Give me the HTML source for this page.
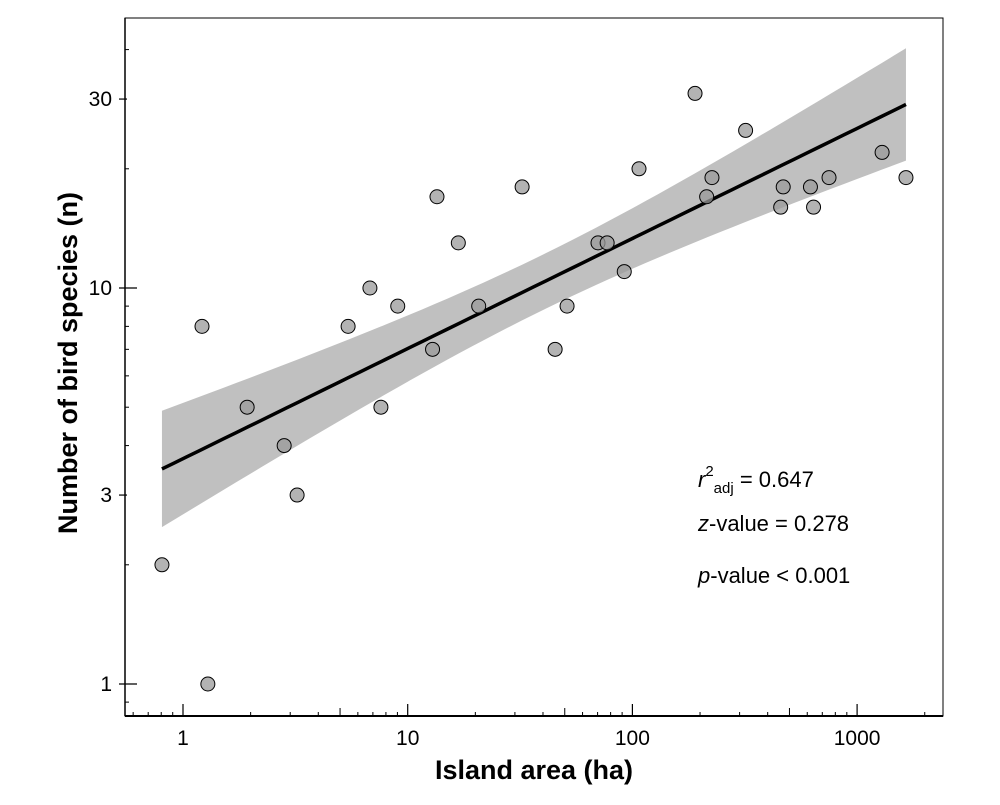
<!DOCTYPE html>
<html><head><meta charset="utf-8"><style>
body{margin:0;background:#fff}
svg text{font-family:"Liberation Sans",Arial,sans-serif}
</style></head><body>
<svg id="chart" width="1000" height="800" xmlns="http://www.w3.org/2000/svg">
<rect x="0" y="0" width="1000" height="800" fill="#fff"/>
<g id="band"></g><g id="line"></g><g id="pts"></g><g id="axes"></g>
<text x="534" y="779" text-anchor="middle" font-size="27" font-weight="bold">Island area (ha)</text>
<text transform="translate(77,363) rotate(-90)" text-anchor="middle" font-size="27" font-weight="bold">Number of bird species (n)</text>
<text x="698" y="487" font-size="22"><tspan font-style="italic">r</tspan><tspan dy="-11" font-size="15">2</tspan><tspan dy="17" font-size="15">adj</tspan><tspan dy="-6"> = 0.647</tspan></text>
<text x="698" y="531" font-size="22"><tspan font-style="italic">z</tspan>-value = 0.278</text>
<text x="698" y="583" font-size="22"><tspan font-style="italic">p</tspan>-value &lt; 0.001</text>
</svg>
<script>
const areas=[0.806,1.29,1.215,1.93,2.82,3.22,5.43,6.79,7.6,9.03,12.9,13.5,16.8,20.7,32.3,45.3,51.2,70.3,77.2,92,107,190,214,226,319,457,469,620,640,750,1292,1650];
const species=[2,1,8,5,4,3,8,10,5,9,7,17,13,9,18,7,9,13,13,11,20,31,17,19,25,16,18,18,16,19,22,19];
const fitParams=[0.569,0.278]; // intercept, slope (log10 space)
const bandParams=[1.6,0.0049,0.00582]; // mean log x, c0, c1
const xTicks=[1,10,100,1000];
const yTicks=[1,3,10,30];
const NS="http://www.w3.org/2000/svg";
const X0=125,X1=943,Y0=18,Y1=716;
const xs=v=>183+224.7*Math.log10(v);
const ys=v=>684-396*Math.log10(v);
function mk(p,t,a){const e=document.createElementNS(NS,t);for(const k in a)e.setAttribute(k,a[k]);p.appendChild(e);return e;}
const xmin=Math.min(...areas),xmax=Math.max(...areas);
const l0=Math.log10(xmin),l1=Math.log10(xmax);
let up=[],lo=[],ln=[];
for(let i=0;i<=60;i++){const lx=l0+(l1-l0)*i/60;const px=xs(Math.pow(10,lx));const yh=fitParams[0]+fitParams[1]*lx;
const h=Math.sqrt(bandParams[1]+bandParams[2]*(lx-bandParams[0])**2);
up.push(px+','+ys(Math.pow(10,yh+h)));lo.unshift(px+','+ys(Math.pow(10,yh-h)));ln.push(px+','+ys(Math.pow(10,yh)));}
const band=mk(document.getElementById('band'),'polygon',{points:up.concat(lo).join(' '),fill:'#c0c0c0'});


const fl=mk(document.getElementById('line'),'polyline',{points:ln.join(' '),fill:'none',stroke:'#000','stroke-width':3.5});


const pg=document.getElementById('pts');
areas.forEach((a,i)=>{const c=mk(pg,'circle',{cx:xs(a),cy:ys(species[i]),r:7,fill:'#9a9a9a','fill-opacity':0.75,stroke:'#000','stroke-width':1});

});
const ax=document.getElementById('axes');
mk(ax,'rect',{x:X0,y:Y0,width:X1-X0,height:Y1-Y0,fill:'none',stroke:'#000','stroke-width':1});
mk(ax,'line',{x1:X0,y1:Y1,x2:X1,y2:Y1,stroke:'#000','stroke-width':2});
mk(ax,'line',{x1:X0,y1:Y0,x2:X0,y2:Y1,stroke:'#000','stroke-width':1.5});
for(let d=0.1;d<=1000;d*=10){for(let m=2;m<=9;m++){const v=d*m;const px=xs(v);if(px<X0||px>X1)continue;
mk(ax,'line',{x1:px,y1:Y1,x2:px,y2:Y1-(m==5?8:4),stroke:'#000','stroke-width':1});}}
xTicks.forEach(v=>{mk(ax,'line',{x1:xs(v),y1:Y1,x2:xs(v),y2:Y1-12,stroke:'#000','stroke-width':1.2});
const t=mk(ax,'text',{x:xs(v),y:745,'text-anchor':'middle','font-size':21});t.textContent=v;

});
[0.9,2,4,5,6,7,8,9,20,40].forEach(v=>{const py=ys(v);if(py<Y0||py>Y1)return;mk(ax,'line',{x1:X0,y1:py,x2:X0+4,y2:py,stroke:'#000','stroke-width':1});});
yTicks.forEach(v=>{const big=(v==1||v==10);mk(ax,'line',{x1:X0-6,y1:ys(v),x2:big?X0+12:X0+2,y2:ys(v),stroke:'#000','stroke-width':1.2});
const t=mk(ax,'text',{x:112,y:ys(v)+7,'text-anchor':'end','font-size':21});t.textContent=v;

});
</script>
</body></html>
